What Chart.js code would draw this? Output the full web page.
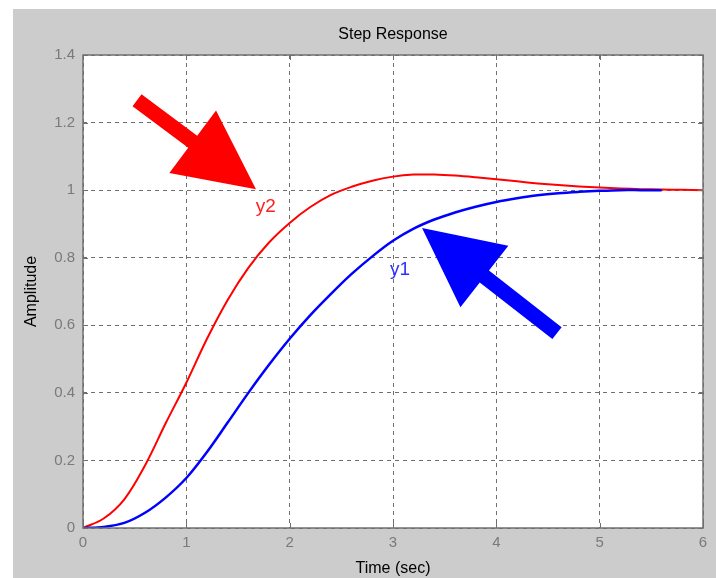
<!DOCTYPE html>
<html>
<head>
<meta charset="utf-8">
<script src="https://cdn.jsdelivr.net/npm/chart.js@4/dist/chart.umd.min.js"></script>
<style>
  html, body { margin: 0; padding: 0; background: #fff; }
  #wrap { width: 716px; height: 578px; }
</style>
</head>
<body>
<div id="wrap"><canvas id="stepChart" width="716" height="578"></canvas></div>
<script>
// time axis (sec)
const timeSec = [0, 0.2, 0.4, 0.6, 0.8, 1.0, 1.2, 1.4, 1.6, 1.8, 2.0, 2.2, 2.4, 2.6, 2.8, 3.0,
  3.2, 3.4, 3.6, 3.8, 4.0, 4.2, 4.4, 4.6, 4.8, 5.0, 5.2, 5.4, 5.6, 5.8, 6.0];

// y1 - blue response
const y1 = [0, 0.003, 0.015, 0.045, 0.09, 0.148, 0.225, 0.312, 0.4, 0.483, 0.56, 0.63, 0.693, 0.752,
  0.804, 0.85, 0.886, 0.913, 0.934, 0.951, 0.965, 0.976, 0.985, 0.991, 0.995, 0.998, 1.0, 1.0, 1.0, null, null];

// y2 - red response
const y2 = [0, 0.028, 0.085, 0.185, 0.31, 0.43, 0.56, 0.675, 0.77, 0.845, 0.903, 0.95, 0.986, 1.01,
  1.028, 1.04, 1.046, 1.046, 1.043, 1.038, 1.032, 1.026, 1.02, 1.015, 1.011, 1.008, 1.005, 1.003,
  1.002, 1.001, 1.0];

const xTicks = [0, 1, 2, 3, 4, 5, 6];
const yTicks = [0, 0.2, 0.4, 0.6, 0.8, 1, 1.2, 1.4];

// annotations, in data units: [time, amplitude]
const arrowY2 = { tail: [0.523, 1.266], tip: [1.674, 1.003] };
const arrowY1 = { tail: [4.587, 0.577], tip: [3.281, 0.888] };
const labelY2 = { text: 'y2', at: [1.77, 0.95] };
const labelY1 = { text: 'y1', at: [3.068, 0.763] };

const FONT = '"Liberation Sans", Arial, Helvetica, sans-serif';

const toPoints = (ys) => timeSec.map((t, i) => ({ x: t, y: ys[i] }));

// gray figure background + white axes area + box and inward ticks
const matlabFrame = {
  id: 'matlabFrame',
  beforeDraw(chart) {
    const { ctx, chartArea: a } = chart;
    ctx.save();
    ctx.fillStyle = '#cccccc';
    ctx.fillRect(13, 9, chart.width - 13, chart.height - 9);
    ctx.fillStyle = '#ffffff';
    ctx.fillRect(a.left, a.top, a.right - a.left, a.bottom - a.top);
    ctx.restore();
  },
  afterDatasetsDraw(chart) {
    const { ctx, chartArea: a, scales } = chart;
    ctx.save();
    ctx.strokeStyle = '#707070';
    ctx.lineWidth = 1;
    ctx.beginPath();
    xTicks.forEach(v => {
      const x = Math.round(scales.x.getPixelForValue(v)) + 0.5;
      ctx.moveTo(x, a.bottom); ctx.lineTo(x, a.bottom - 5);
      ctx.moveTo(x, a.top); ctx.lineTo(x, a.top + 5);
    });
    yTicks.forEach(v => {
      const y = Math.round(scales.y.getPixelForValue(v)) + 0.5;
      ctx.moveTo(a.left, y); ctx.lineTo(a.left + 5, y);
      ctx.moveTo(a.right, y); ctx.lineTo(a.right - 5, y);
    });
    ctx.stroke();
    ctx.lineWidth = 1.5;
    ctx.strokeRect(a.left, a.top, a.right - a.left, a.bottom - a.top);
    ctx.restore();
  }
};

function drawArrow(ctx, x0, y0, x1, y1, color) {
  const ang = Math.atan2(y1 - y0, x1 - x0);
  const len = Math.hypot(x1 - x0, y1 - y0);
  const headLen = 79, headHalf = 39, shaftHalf = 7.5;
  ctx.save();
  ctx.translate(x0, y0);
  ctx.rotate(ang);
  ctx.fillStyle = color;
  ctx.beginPath();
  ctx.moveTo(0, -shaftHalf);
  ctx.lineTo(len - headLen, -shaftHalf);
  ctx.lineTo(len - headLen, -headHalf);
  ctx.lineTo(len, 0);
  ctx.lineTo(len - headLen, headHalf);
  ctx.lineTo(len - headLen, shaftHalf);
  ctx.lineTo(0, shaftHalf);
  ctx.closePath();
  ctx.fill();
  ctx.restore();
}

const annotations = {
  id: 'annotations',
  afterDatasetsDraw(chart) {
    const { ctx, scales: { x, y } } = chart;
    const px = p => [x.getPixelForValue(p[0]), y.getPixelForValue(p[1])];
    const [a0, a1] = [px(arrowY2.tail), px(arrowY2.tip)];
    drawArrow(ctx, a0[0], a0[1], a1[0], a1[1], '#ff0000');
    const [b0, b1] = [px(arrowY1.tail), px(arrowY1.tip)];
    drawArrow(ctx, b0[0], b0[1], b1[0], b1[1], '#0000ff');
    ctx.save();
    ctx.font = '19px ' + FONT;
    ctx.textAlign = 'center';
    ctx.textBaseline = 'middle';
    let p = px(labelY2.at);
    ctx.fillStyle = '#ff2020';
    ctx.fillText(labelY2.text, p[0], p[1]);
    p = px(labelY1.at);
    ctx.fillStyle = '#3030ff';
    ctx.fillText(labelY1.text, p[0], p[1]);
    ctx.restore();
  }
};

const ctx = document.getElementById('stepChart').getContext('2d');

new Chart(ctx, {
  type: 'line',
  data: {
    datasets: [
      {
        label: 'y1',
        data: toPoints(y1),
        borderColor: '#0000ff',
        borderWidth: 2.5,
        pointRadius: 0,
        tension: 0.35,
        spanGaps: false
      },
      {
        label: 'y2',
        data: toPoints(y2),
        borderColor: '#ff0000',
        borderWidth: 2,
        pointRadius: 0,
        tension: 0.35
      }
    ]
  },
  options: {
    responsive: false,
    animation: false,
    layout: { padding: { left: 0, top: 0, right: 13, bottom: 0 } },
    plugins: {
      legend: { display: false },
      tooltip: { enabled: false },
      title: {
        display: true,
        text: 'Step Response',
        fullSize: false,
        color: '#000',
        font: { family: FONT, size: 16, weight: 'normal' },
        padding: { top: 25.4, bottom: 10.4 }
      }
    },
    scales: {
      x: {
        type: 'linear',
        min: 0,
        max: 6,
        afterFit: s => { s.height = 50; },
        afterBuildTicks: s => { s.ticks = xTicks.map(v => ({ value: v })); },
        ticks: {
          color: '#7a7a7a',
          padding: 6,
          font: { family: FONT, size: 15 },
          callback: v => String(v)
        },
        grid: { color: '#6e6e6e', lineWidth: 1, drawTicks: false },
        border: { display: false, dash: [4, 4] },
        title: {
          display: true,
          text: 'Time (sec)',
          color: '#000',
          font: { family: FONT, size: 16 },
          padding: { top: 0, bottom: 0 }
        }
      },
      y: {
        min: 0,
        max: 1.4,
        afterFit: s => { s.width = 83; },
        afterBuildTicks: s => { s.ticks = yTicks.map(v => ({ value: v })); },
        ticks: {
          color: '#7a7a7a',
          padding: 8,
          font: { family: FONT, size: 15 },
          callback: v => String(+v.toFixed(1))
        },
        grid: { color: '#6e6e6e', lineWidth: 1, drawTicks: false },
        border: { display: false, dash: [4, 4] },
        title: {
          display: true,
          text: 'Amplitude',
          color: '#000',
          font: { family: FONT, size: 16 },
          padding: { top: 22, bottom: 0 }
        }
      }
    }
  },
  plugins: [matlabFrame, annotations]
});
</script>
</body>
</html>
